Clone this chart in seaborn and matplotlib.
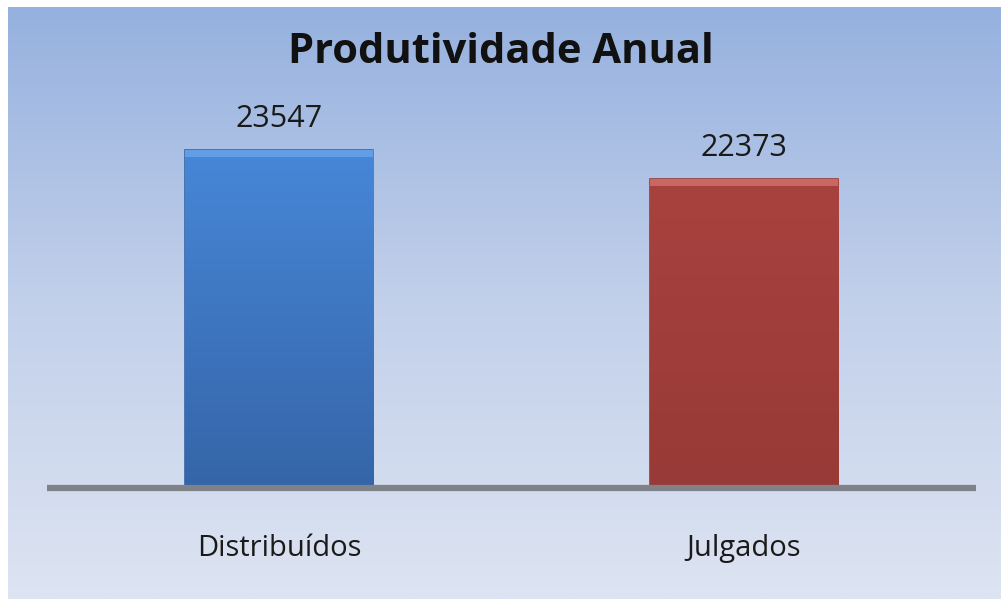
import numpy as np
import pandas as pd
import seaborn as sns
import matplotlib.pyplot as plt
from matplotlib.colors import LinearSegmentedColormap
from matplotlib.patches import Rectangle

# dados
categorias = ['Distribuídos', 'Julgados']
valores = [23547, 22373]
cores = ['#3f7dcc', '#a03d3a']
cores_claras = ['#4787d8', '#a8423f']
cores_escuras = ['#3565a8', '#983a37']
cores_topo = ['#6aa5ea', '#d2726c']

df = pd.DataFrame({'categoria': categorias, 'valor': valores})

sns.set_style('white')
plt.rcParams['font.family'] = ['Open Sans', 'DejaVu Sans']

fig = plt.figure(figsize=(10.01, 5.99), dpi=100)

# fundo com gradiente
bg = fig.add_axes([8 / 1001, 0, 993 / 1001, 592 / 599], zorder=0)
grad = np.linspace(0, 1, 256).reshape(-1, 1)
bg_cmap = LinearSegmentedColormap.from_list('bg', ['#96b1df', '#c2d0ea', '#dde4f2'])
bg.imshow(grad, aspect='auto', cmap=bg_cmap, extent=[0, 1, 0, 1], origin='upper')
bg.set_axis_off()

ax = fig.add_axes([47 / 1001, 111 / 599, 929 / 1001, 374.3 / 599], zorder=1)
ax.patch.set_alpha(0)
sns.barplot(data=df, x='categoria', y='valor', hue='categoria', palette=cores,
            width=0.405, legend=False, ax=ax)

ax.set_ylim(10000, 25000)
ax.set_xlim(-0.5, 1.5)

# gradiente e brilho no topo das barras
px_y = (25000 - 10000) / 374.3
for p, c1, c2, ct in zip(list(ax.patches), cores_claras, cores_escuras, cores_topo):
    x0, y0 = p.get_x(), p.get_y()
    w, h = p.get_width(), p.get_height()
    cm = LinearSegmentedColormap.from_list('b', [c1, c2])
    im = ax.imshow(grad, aspect='auto', cmap=cm, origin='upper',
                   extent=[x0, x0 + w, 10000, y0 + h], zorder=2)
    im.set_clip_path(p)
    ax.add_patch(Rectangle((x0, y0 + h - 7 * px_y), w, 7 * px_y, color=ct,
                           alpha=0.8, lw=0, zorder=2.5))
    p.set_edgecolor(c2)
    p.set_linewidth(1.2)

for i, v in enumerate(valores):
    ax.annotate(str(v), (i, v), xytext=(0, 16.5), textcoords='offset points',
                ha='center', va='baseline', fontsize=22, color='#1a1a1a')

ax.set_xlabel('')
ax.set_ylabel('')
ax.set_yticks([])
ax.tick_params(axis='x', length=0, pad=33, labelsize=21, labelcolor='#1a1a1a')
for s in ['top', 'right', 'left']:
    ax.spines[s].set_visible(False)
ax.spines['bottom'].set_color('#7f8389')
ax.spines['bottom'].set_linewidth(4.5)
ax.spines['bottom'].set_capstyle('butt')
ax.spines['bottom'].set_zorder(3)

fig.text(0.5, 1 - 63 / 599, 'Produtividade Anual', ha='center', va='baseline',
         fontsize=30, fontweight='bold', color='#111111')

fig.savefig('out.png', dpi=100)
